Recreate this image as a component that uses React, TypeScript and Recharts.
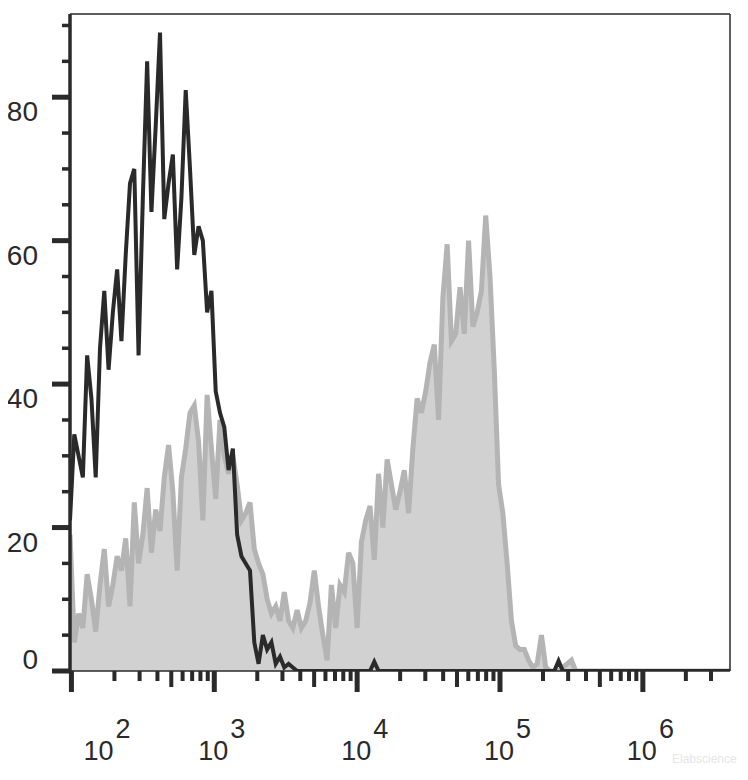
import { ComposedChart, Area, Line, XAxis, YAxis, ReferenceLine } from 'recharts'

// histogram channels: log10 of the bin centre, 0.03 decade wide
const BIN_START = 1.99
const BIN_WIDTH = 0.03
const BIN_COUNT = 155

// stained sample (grey filled)
const grayCounts = [
  19, 4, 8, 6, 13.5, 10, 5.5, 12, 17, 9,
  12, 16, 14, 18.5, 9, 23.5, 15, 19, 25.5, 16.5,
  22.5, 19.5, 27, 31.5, 25, 14, 27, 31, 36, 37,
  32, 21, 38.5, 31, 24, 35, 30, 27.5, 30, 26,
  21, 22, 23.5, 17, 15, 13.5, 10, 8, 9, 7,
  11, 7, 6, 8.5, 6, 7, 9.5, 14, 9, 5,
  1.5, 12, 6, 12, 11, 16.5, 15, 6, 18, 21,
  23, 15.5, 27.5, 20, 29.5, 26, 22.5, 25, 28, 22,
  31, 38, 36, 39, 43, 45.5, 35, 52, 59.5, 46,
  47, 53.5, 47, 60, 48, 50, 53, 63.5, 55, 42,
  26, 22, 15, 7, 3.5, 3, 3, 1.5, 0.5, 1,
  5, 0.5, 0, 0, 0, 0.5, 1, 1.5, 0, 0,
  0, 0, 0, 0, 0, 0, 0, 0, 0, 0,
  0, 0, 0, 0, 0, 0, 0, 0, 0, 0,
  0, 0, 0, 0, 0, 0, 0, 0, 0, 0,
  0, 0, 0, 0, 0,
]

// isotype control (black line)
const blackCounts = [
  21, 33, 30, 27, 44, 38, 27, 45, 53, 42,
  50, 56, 46, 58, 68, 70, 44, 66, 85, 64,
  76, 89, 63, 68, 72, 56, 66, 81, 70, 58,
  62, 60, 50, 53, 39, 36, 34, 28, 31, 19,
  16, 15, 14, 4, 1, 5, 3, 4, 1, 2,
  0.5, 1, 0.5, 0, 0, 0, 0, 0, 0, 0,
  0, 0, 0, 0, 0, 0, 0, 0, 0, 0,
  0, 1.3, 0, 0, 0, 0, 0, 0, 0, 0,
  0, 0, 0, 0, 0, 0, 0, 0, 0, 0,
  0, 0, 0, 0, 0, 0, 0, 0, 0, 0,
  0, 0, 0, 0, 0, 0, 0, 0, 0, 0,
  0, 0, 0, 0, 1.4, 0, 0, 0, 0, 0,
  0, 0, 0, 0, 0, 0, 0, 0, 0, 0,
  0, 0, 0, 0, 0, 0, 0, 0, 0, 0,
  0, 0, 0, 0, 0, 0, 0, 0, 0, 0,
  0, 0, 0, 0, 0,
]

const xTicks = [
  100, 200, 300, 400, 500, 600, 700, 800, 900,
  1e3, 2e3, 3e3, 4e3, 5e3, 6e3, 7e3, 8e3, 9e3,
  1e4, 2e4, 3e4, 4e4, 5e4, 6e4, 7e4, 8e4, 9e4,
  1e5, 2e5, 3e5, 4e5, 5e5, 6e5, 7e5, 8e5, 9e5,
  1e6, 2e6, 3e6,
]
const yTicks = [0, 5, 10, 15, 20, 25, 30, 35, 40, 45, 50, 55, 60, 65, 70, 75, 80, 85, 90]

const X_MIN = 10 ** BIN_START
const X_MAX = 10 ** (BIN_START + (BIN_COUNT - 1) * BIN_WIDTH)
const Y_MAX = 91.6

const INK = '#2a2a2a'
const FONT = '"Liberation Sans", Arial, sans-serif'

const rows = grayCounts.map((g, i) => ({
  x: 10 ** (BIN_START + i * BIN_WIDTH),
  gray: g,
  black: blackCounts[i],
}))

const XTick = ({ x, y, payload }: any) => {
  const v = payload.value
  const exp = Math.floor(Math.log10(v) + 1e-9)
  const m = Math.round(v / 10 ** exp)
  const major = m === 1
  const len = major ? 21 : m === 5 ? 16 : 10
  const w = major ? 5 : 4
  return (
    <g>
      <rect x={x - w / 2} y={y} width={w} height={len} fill={INK} />
      {major && (
        <text x={x - 16 + (exp === 2 ? 28 : 0)} y={y + 89} fontSize={27} fill={INK} fontFamily={FONT}>
          <tspan>10</tspan>
          <tspan dx={2} dy={-22}>{exp}</tspan>
        </text>
      )}
    </g>
  )
}

const YTick = ({ x, y, payload }: any) => {
  const v = payload.value
  const major = v % 20 === 0
  const len = major ? 18 : 8
  const h = major ? 5 : 3.5
  return (
    <g>
      <rect x={x - len} y={y - h / 2} width={len} height={h} fill={INK} />
      {major && (
        <text x={x - 32} y={v === 0 ? y - 2 : y + 24} textAnchor="end" fontSize={28} fill={INK} fontFamily={FONT}>
          {v}
        </text>
      )}
    </g>
  )
}

export default function App() {
  return (
    <div style={{ position: 'relative', width: 732, height: 764, fontFamily: FONT }}>
      <ComposedChart width={732} height={764} data={rows} margin={{ top: 6, right: 10, left: 2, bottom: 11 }}>
        <XAxis
          dataKey="x"
          type="number"
          scale="log"
          domain={[X_MIN, X_MAX]}
          allowDataOverflow
          ticks={xTicks}
          interval={0}
          height={90}
          tickSize={0}
          tickMargin={0}
          tickLine={false}
          axisLine={{ stroke: INK, strokeWidth: 1.5 }}
          tick={(p: any) => <XTick {...p} />}
        />
        <YAxis
          type="number"
          domain={[0, Y_MAX]}
          allowDataOverflow
          ticks={yTicks}
          interval={0}
          width={60}
          tickSize={0}
          tickMargin={0}
          tickLine={false}
          axisLine={{ stroke: INK, strokeWidth: 3.5 }}
          tick={(p: any) => <YTick {...p} />}
        />
        <Area
          dataKey="gray"
          type="linear"
          fill="#d1d1d1"
          fillOpacity={1}
          stroke="#b4b4b4"
          strokeWidth={5}
          dot={false}
          activeDot={false}
          isAnimationActive={false}
        />
        <Line
          dataKey="black"
          type="linear"
          stroke={INK}
          strokeWidth={4}
          dot={false}
          activeDot={false}
          isAnimationActive={false}
        />
        <ReferenceLine y={Y_MAX} stroke={INK} strokeWidth={1.5} ifOverflow="visible" />
        <ReferenceLine x={X_MAX} stroke={INK} strokeWidth={1.5} ifOverflow="visible" />
      </ComposedChart>
      <div
        style={{
          position: 'absolute',
          left: 664,
          top: 744,
          fontSize: 12,
          color: '#e6e6e6',
          whiteSpace: 'nowrap',
        }}
      >
        Elabscience
      </div>
    </div>
  )
}
